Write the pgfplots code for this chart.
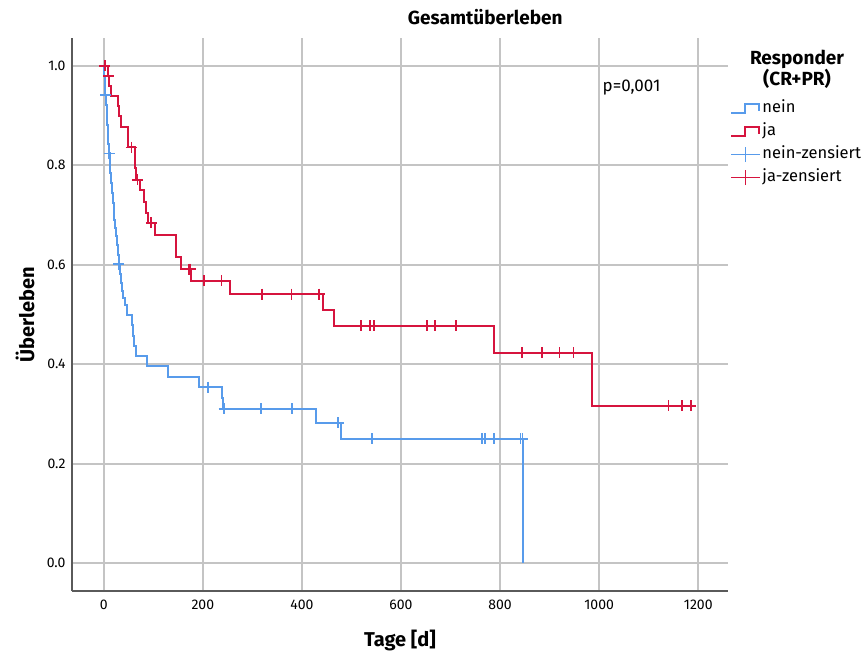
\documentclass[border=0pt]{standalone}
\usepackage{fontspec}
\setmainfont{Fira Sans}
\usepackage{pgfplots}
\pgfplotsset{compat=1.18}

\definecolor{kmblue}{RGB}{88,155,235}
\definecolor{kmred}{RGB}{214,20,62}
\definecolor{gridgray}{RGB}{196,196,196}
\definecolor{axgray}{RGB}{90,90,90}

\begin{document}
\begin{tikzpicture}[x=1pt,y=1pt]
\useasboundingbox (-72,-66) rectangle (792,591);
\begin{axis}[
  at={(0,0)}, anchor=south west, scale only axis,
  width=656pt, height=553pt,
  xmin=-64, xmax=1260, ymin=-0.056, ymax=1.056,
  xtick={0,200,400,600,800,1000,1200},
  ytick={0,0.2,0.4,0.6,0.8,1.0},
  axis x line*=bottom, axis y line*=left,
  axis line style={axgray, line width=1.3pt},
  major tick length=0pt,
  grid=major,
  major grid style={gridgray, line width=1.7pt},
  /pgf/number format/assume math mode=true,
  /pgf/number format/1000 sep={},
  yticklabel style={/pgf/number format/fixed, /pgf/number format/fixed zerofill,
    /pgf/number format/precision=1, font=\fontsize{14}{16}\selectfont, xshift=-3pt},
  xticklabel style={font=\fontsize{14}{16}\selectfont, yshift=-5pt},
  title={Gesamtüberleben},
  title style={font=\bfseries\fontsize{19}{22}\selectfont, at={(axis description cs:0.63,1)}, anchor=south, yshift=4pt},
  xlabel={Tage [d]},
  xlabel style={font=\bfseries\fontsize{20}{23}\selectfont, at={(axis description cs:0.5,-0.0886)}, anchor=center},
  legend cell align=left,
  legend style={draw=none, fill=none, at={(axis description cs:1.003,0.89)}, anchor=north west,
    font=\fontsize{16.5}{18}\selectfont, row sep=4pt, inner sep=0pt,
    nodes={inner sep=1.5pt, text height=12pt, text depth=4pt}},
]
% nein: step line
\addplot[const plot, draw=kmblue, line width=2pt,
  legend image code/.code={\draw[kmblue, line width=2pt] (0pt,-4pt) -- (14pt,-4pt) -- (14pt,4.5pt) -- (28pt,4.5pt) -- (28pt,-2pt);}]
coordinates {
(0,1.0) (1,0.980) (2,0.960) (3,0.941) (5,0.921) (6,0.902) (7,0.882) (8,0.862)
(9,0.843) (10,0.824) (12,0.804) (13,0.784) (15,0.764) (17,0.744) (18,0.724)
(20,0.707) (21,0.690) (23,0.673) (24,0.657) (26,0.640) (28,0.620) (30,0.601)
(32,0.582) (35,0.563) (37,0.548) (39,0.533) (42,0.519) (47,0.499) (57,0.479)
(59,0.457) (61,0.436) (66,0.4175) (88,0.396) (130,0.375) (192,0.354)
(238,0.332) (241,0.310) (429,0.282) (478,0.250) (846,0)
};
\addlegendentry{nein}
% ja: step line
\addplot[const plot, draw=kmred, line width=2pt,
  legend image code/.code={\draw[kmred, line width=2pt] (0pt,-4pt) -- (14pt,-4pt) -- (14pt,4.5pt) -- (28pt,4.5pt) -- (28pt,-2pt);}]
coordinates {
(0,1.0) (8,0.980) (11,0.960) (15,0.940) (28,0.920) (31,0.900) (34,0.878)
(49,0.857) (50,0.836) (63,0.816) (64,0.794) (66,0.771) (73,0.751) (81,0.727)
(86,0.704) (90,0.684) (104,0.660) (145,0.638) (146,0.615) (157,0.591)
(177,0.568) (254,0.541) (443,0.509) (464,0.477) (788,0.4235) (985,0.3165)
(1193,0.3165)
};
\addlegendentry{ja}
% nein-zensiert
\addplot[only marks, mark=+, mark size=5.5pt, draw=kmblue, mark options={line width=1.6pt, draw=kmblue},
  legend image code/.code={\draw[kmblue, line width=1.6pt] (0pt,0pt) -- (29pt,0pt); \draw[kmblue, line width=1.6pt] (14.5pt,-7.5pt) -- (14.5pt,7.5pt);}]
coordinates {
(4,0.941) (11,0.824) (30,0.601) (210,0.354) (243,0.310) (318,0.310) (380,0.310)
(473,0.282) (542,0.250) (764,0.250) (770,0.250) (788,0.250) (841,0.250) (845,0.250)
};
\addlegendentry{nein-zensiert}
% ja-zensiert
\addplot[only marks, mark=+, mark size=5.5pt, draw=kmred, mark options={line width=1.6pt, draw=kmred},
  legend image code/.code={\draw[kmred, line width=1.6pt] (0pt,0pt) -- (29pt,0pt); \draw[kmred, line width=1.6pt] (14.5pt,-7.5pt) -- (14.5pt,7.5pt);}]
coordinates {
(2,1.0) (10,0.980) (56,0.836) (68,0.771) (96,0.684) (172,0.591) (175,0.591)
(202,0.568) (238,0.568) (319,0.541) (379,0.541) (435,0.541) (519,0.477)
(538,0.477) (546,0.477) (653,0.477) (669,0.477) (711,0.477) (844,0.4235)
(884,0.4235) (920,0.4235) (948,0.4235) (1140,0.3165) (1167,0.3165) (1185,0.3165)
};
\addlegendentry{ja-zensiert}
\node[anchor=west, font=\fontsize{17}{20}\selectfont] at (axis cs:1000,0.956) {p=0,001};
\end{axis}
\node[rotate=90, font=\bfseries\fontsize{20}{23}\selectfont] at (-47,276) {Überleben};
\node[align=center, font=\bfseries\fontsize{19}{21}\selectfont, inner sep=0pt] at (725,522) {Responder\\(CR+PR)};
\end{tikzpicture}
\end{document}
